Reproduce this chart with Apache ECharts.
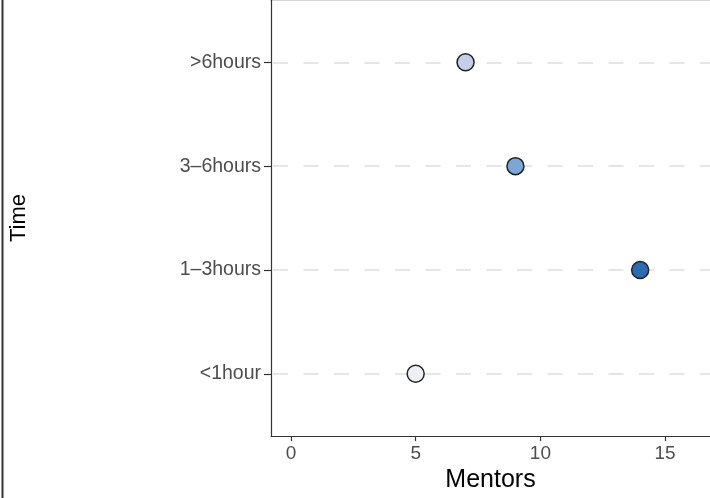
<!DOCTYPE html>
<html>
<head>
<meta charset="utf-8">
<script src="https://cdn.jsdelivr.net/npm/echarts@6/dist/echarts.min.js"></script>
<style>html,body{margin:0;padding:0;background:#fff}#c{width:710px;height:498px}</style>
</head>
<body>
<div id="c"></div>
<script>
// Data
const categories = ['<1hour', '1–3hours', '3–6hours', '>6hours'];
const mentors = [5, 14, 9, 7];
const xTicks = [0, 5, 10, 15];
const pointColors = ['#eeeff5', '#2c6bb0', '#7ba7d4', '#c5cfe8'];

const catPos = categories.map((c, i) => i + 1);
const chart = echarts.init(document.getElementById('c'));
const font = 'Liberation Sans, Arial, sans-serif';

chart.setOption({
  animation: false,
  grid: { left: 270, right: 0, top: 0, bottom: 58, containLabel: false },
  xAxis: {
    type: 'value', min: -0.8, max: 16.8,
    name: 'Mentors', nameLocation: 'middle', nameGap: 29,
    nameTextStyle: { fontFamily: font, fontSize: 25, color: '#000' },
    axisLine: { show: true, onZero: false, lineStyle: { color: '#333', width: 1.2 } },
    axisTick: { show: true, customValues: xTicks, length: 5, lineStyle: { color: '#333', width: 1.2 } },
    axisLabel: { customValues: xTicks, fontFamily: font, fontSize: 19, color: '#4d4d4d', margin: 8 },
    splitLine: { show: false }
  },
  yAxis: {
    type: 'value', min: 0.4, max: categories.length + 0.6,
    name: 'Time', nameLocation: 'middle', nameGap: 241, nameRotate: 90,
    nameTextStyle: { fontFamily: font, fontSize: 22, color: '#000' },
    axisLine: { show: true, onZero: false, lineStyle: { color: '#333', width: 1.2 } },
    axisTick: { show: true, customValues: catPos, length: 7, lineStyle: { color: '#333', width: 1.2 } },
    axisLabel: { customValues: catPos, fontFamily: font, fontSize: 19.5, color: '#4d4d4d', margin: 10,
      formatter: v => categories[Math.round(v) - 1] || '' },
    splitLine: { show: true, lineStyle: { color: '#e6e6e6', width: 2, type: [15, 15.5], dashOffset: -2 } }
  },
  series: [{
    type: 'scatter',
    symbolSize: 17,
    data: mentors.map((v, i) => ({ value: [v, i + 1], itemStyle: { color: pointColors[i] } })),
    itemStyle: { borderColor: '#222', borderWidth: 1.5, opacity: 1 },
    z: 5
  }],
  graphic: [
    { type: 'line', shape: { x1: 2.5, y1: 0, x2: 2.5, y2: 498 }, style: { stroke: '#333', lineWidth: 2 } },
    { type: 'line', shape: { x1: 270, y1: 0.5, x2: 710, y2: 0.5 }, style: { stroke: '#d5d5d5', lineWidth: 1 } }
  ]
});
</script>
</body>
</html>
